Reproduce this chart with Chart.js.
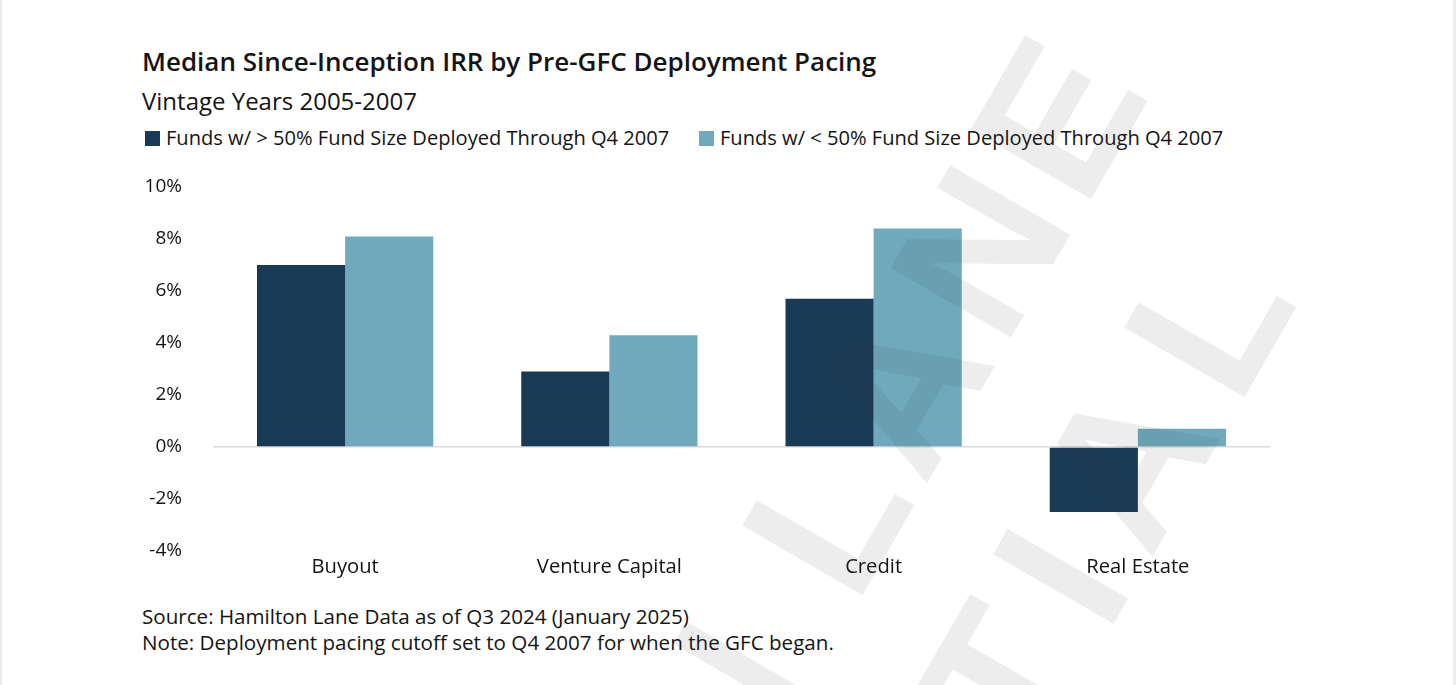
<!DOCTYPE html>
<html>
<head>
<meta charset="utf-8">
<script src="https://cdn.jsdelivr.net/npm/chart.js@4.4.1/dist/chart.umd.min.js"></script>
<style>
  html, body { margin: 0; padding: 0; background: #ffffff; }
  body { width: 1456px; height: 685px; position: relative; overflow: hidden; font-family: "Open Sans", "Noto Sans", sans-serif; color: #141414; }
  .edge { position: absolute; top: 0; height: 685px; background: #ebebeb; }
  #edgeL { left: 0; width: 2px; }
  #edgeR { left: 1453px; width: 3px; }
  .txt { position: absolute; left: 142px; white-space: nowrap; }
  #title { top: 46px; font-size: 26px; line-height: 30px; font-weight: 600; }
  #subtitle { top: 87px; font-size: 24px; line-height: 28px; font-weight: 400; }
  #legend { position: absolute; top: 126px; left: 145px; height: 24px; font-size: 20.1px; line-height: 24px; white-space: nowrap; }
  .li { position: absolute; top: 0; white-space: nowrap; }
  .sw { position: absolute; top: 5px; width: 15px; height: 15px; }
  .lt { position: absolute; top: 0; left: 21px; }
  #notes { top: 603px; font-size: 20.6px; line-height: 26px; }
  #wrap { position: absolute; left: 0; top: 0; width: 1456px; height: 685px; z-index: 5; }
</style>
</head>
<body>
<div class="edge" id="edgeL"></div>
<div class="edge" id="edgeR"></div>
<div class="txt" id="title"></div>
<div class="txt" id="subtitle"></div>
<div id="legend"></div>
<div class="txt" id="notes"></div>
<div id="wrap"><canvas id="c" width="1456" height="685"></canvas></div>
<script>
// ---- data ----
const chartTitle = 'Median Since-Inception IRR by Pre-GFC Deployment Pacing';
const chartSubtitle = 'Vintage Years 2005-2007';
const categories = ['Buyout', 'Venture Capital', 'Credit', 'Real Estate'];
const seriesNames = ['Funds w/ > 50% Fund Size Deployed Through Q4 2007', 'Funds w/ < 50% Fund Size Deployed Through Q4 2007'];
const seriesAbove50 = [7.0, 2.9, 5.7, -2.5];
const seriesBelow50 = [8.1, 4.3, 8.4, 0.7];
const seriesColors = ['#193A55', '#70A9BD'];
const yTickValues = [-4, -2, 0, 2, 4, 6, 8, 10];
const footnotes = ['Source: Hamilton Lane Data as of Q3 2024 (January 2025)', 'Note: Deployment pacing cutoff set to Q4 2007 for when the GFC began.'];
const watermarkLines = ['HAMILTON LANE', 'CONFIDENTIAL'];

// ---- text ----
document.getElementById('title').textContent = chartTitle;
document.getElementById('subtitle').textContent = chartSubtitle;
document.getElementById('notes').innerHTML = footnotes.map(s => '<div>' + s + '</div>').join('');
const legendOffsets = [0, 554];
const legend = document.getElementById('legend');
seriesNames.forEach((name, i) => {
  const li = document.createElement('div');
  li.className = 'li';
  li.style.left = legendOffsets[i] + 'px';
  li.innerHTML = '<span class="sw" style="background:' + seriesColors[i] + '"></span><span class="lt"></span>';
  li.querySelector('.lt').textContent = name;
  legend.appendChild(li);
});

// ---- watermark plugin ----
const watermark = {
  id: 'watermark',
  afterDraw(chart) {
    const ctx = chart.ctx;
    ctx.save();
    ctx.font = 'bold 202px "Liberation Sans", Arial, sans-serif';
    ctx.fillStyle = 'rgba(50,50,50,0.09)';
    ctx.textBaseline = 'alphabetic';
    const ang = -60 * Math.PI / 180;
    const lsb = 14.6;
    // line 1 anchored at the start of "LANE"
    ctx.save();
    ctx.letterSpacing = '14px';
    ctx.translate(863, 594);
    ctx.rotate(ang);
    const a1 = ctx.measureText('HAMILTON ').width;
    ctx.fillText(watermarkLines[0], -a1 - lsb, 0);
    ctx.restore();
    // line 2 anchored at the final "L"
    ctx.save();
    ctx.letterSpacing = '30px';
    ctx.translate(1245, 396);
    ctx.rotate(ang);
    const a2 = ctx.measureText('CONFIDENTIA').width;
    ctx.fillText(watermarkLines[1], -a2 - lsb, 0);
    ctx.restore();
    ctx.restore();
  }
};

const ctx = document.getElementById('c').getContext('2d');
new Chart(ctx, {
  type: 'bar',
  data: {
    labels: categories,
    datasets: [
      { label: seriesNames[0], data: seriesAbove50, backgroundColor: seriesColors[0], borderWidth: 0 },
      { label: seriesNames[1], data: seriesBelow50, backgroundColor: seriesColors[1], borderWidth: 0 }
    ]
  },
  options: {
    responsive: false,
    animation: false,
    devicePixelRatio: 1,
    layout: { padding: { left: 142, right: 186, top: 187, bottom: 94 } },
    datasets: { bar: { categoryPercentage: 0.667, barPercentage: 1.0 } },
    plugins: { legend: { display: false }, title: { display: false }, tooltip: { enabled: false } },
    scales: {
      x: {
        grid: { display: false, drawTicks: false },
        border: { display: false },
        ticks: { color: '#141414', font: { family: '"Open Sans"', size: 20.2 }, padding: 4 },
        afterFit(s) { s.height = 40; }
      },
      y: {
        min: -4, max: 10,
        afterBuildTicks(s) { s.ticks = yTickValues.map(v => ({ value: v })); },
        grid: {
          drawTicks: false,
          color: c => (c.tick && c.tick.value === 0) ? '#d9d9d9' : 'rgba(0,0,0,0)',
          lineWidth: 1.5
        },
        border: { display: false },
        ticks: { color: '#141414', font: { family: '"Open Sans"', size: 19 }, padding: 31, callback: v => v + '%' },
        afterFit(s) { s.width = 71; }
      }
    }
  },
  plugins: [watermark]
});
</script>
</body>
</html>
